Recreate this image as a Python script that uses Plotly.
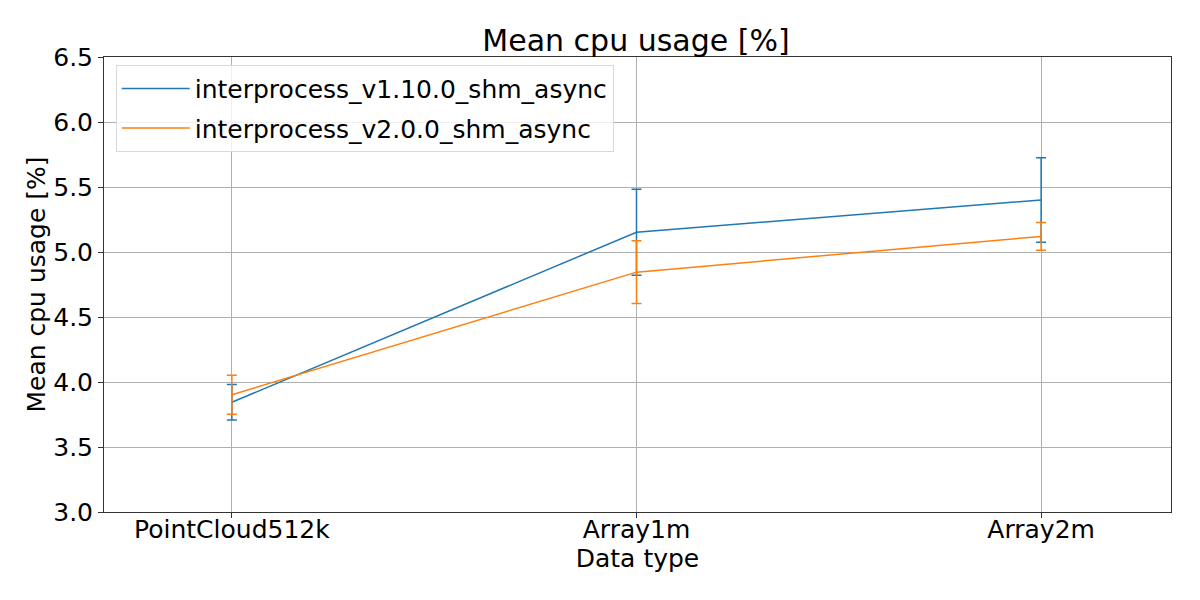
import plotly.graph_objects as go

categories = ["PointCloud512k", "Array1m", "Array2m"]
v1_mean = [3.844, 5.152, 5.400]
v1_err = [0.136, 0.330, 0.325]
v2_mean = [3.902, 4.845, 5.120]
v2_err = [0.150, 0.242, 0.106]
series_names = ["interprocess_v1.10.0_shm_async", "interprocess_v2.0.0_shm_async"]
colors = ["#1f77b4", "#ff7f0e"]

fig = go.Figure()
for i, (name, mean, err, c) in enumerate(zip(series_names, [v1_mean, v2_mean], [v1_err, v2_err], colors)):
    fig.add_trace(go.Scatter(
        x=list(range(len(categories))), y=mean, name=name, mode="lines",
        legendgroup=f"g{i}",
        line=dict(color=c, width=1.5),
        error_y=dict(type="data", array=err, visible=True, color=c, thickness=1.5, width=5),
    ))

fig.update_layout(
    width=1200, height=600,
    margin=dict(l=104, r=29, t=57, b=88),
    paper_bgcolor="white", plot_bgcolor="white",
    font=dict(family="DejaVu Sans", size=21, color="black"),
    title=dict(text="Mean cpu usage [%]", x=0.53, xanchor="center", y=0.933, yanchor="middle",
               font=dict(size=30)),
    showlegend=True,
    legend=dict(x=0.011, y=0.983, xanchor="left", yanchor="top",
                bgcolor="rgba(255,255,255,0.8)", bordercolor="#d9d9d9", borderwidth=1,
                itemwidth=68, tracegroupgap=4,
                font=dict(size=25)),
)
fig.update_xaxes(
    range=[-0.316, 2.321], tickmode="array", tickvals=list(range(len(categories))), ticktext=categories,
    tickfont=dict(size=25), ticklabelstandoff=-10,
    showgrid=True, gridcolor="#b0b0b0", gridwidth=1, zeroline=False,
    showline=True, linecolor="#333333", linewidth=1, mirror=True,
    ticks="outside", ticklen=5, tickcolor="#333333",
    title=dict(text="Data type", standoff=2),
)
fig.update_yaxes(
    range=[3.0, 6.5], tickmode="array", tickvals=[3.0, 3.5, 4.0, 4.5, 5.0, 5.5, 6.0, 6.5],
    tickformat=".1f", tickfont=dict(size=25),
    showgrid=True, gridcolor="#b0b0b0", gridwidth=1, zeroline=False,
    showline=True, linecolor="#333333", linewidth=1, mirror=True,
    ticks="outside", ticklen=5, tickcolor="#333333",
    title=dict(text="Mean cpu usage [%]", standoff=0),
)
fig.write_html("out.html")
